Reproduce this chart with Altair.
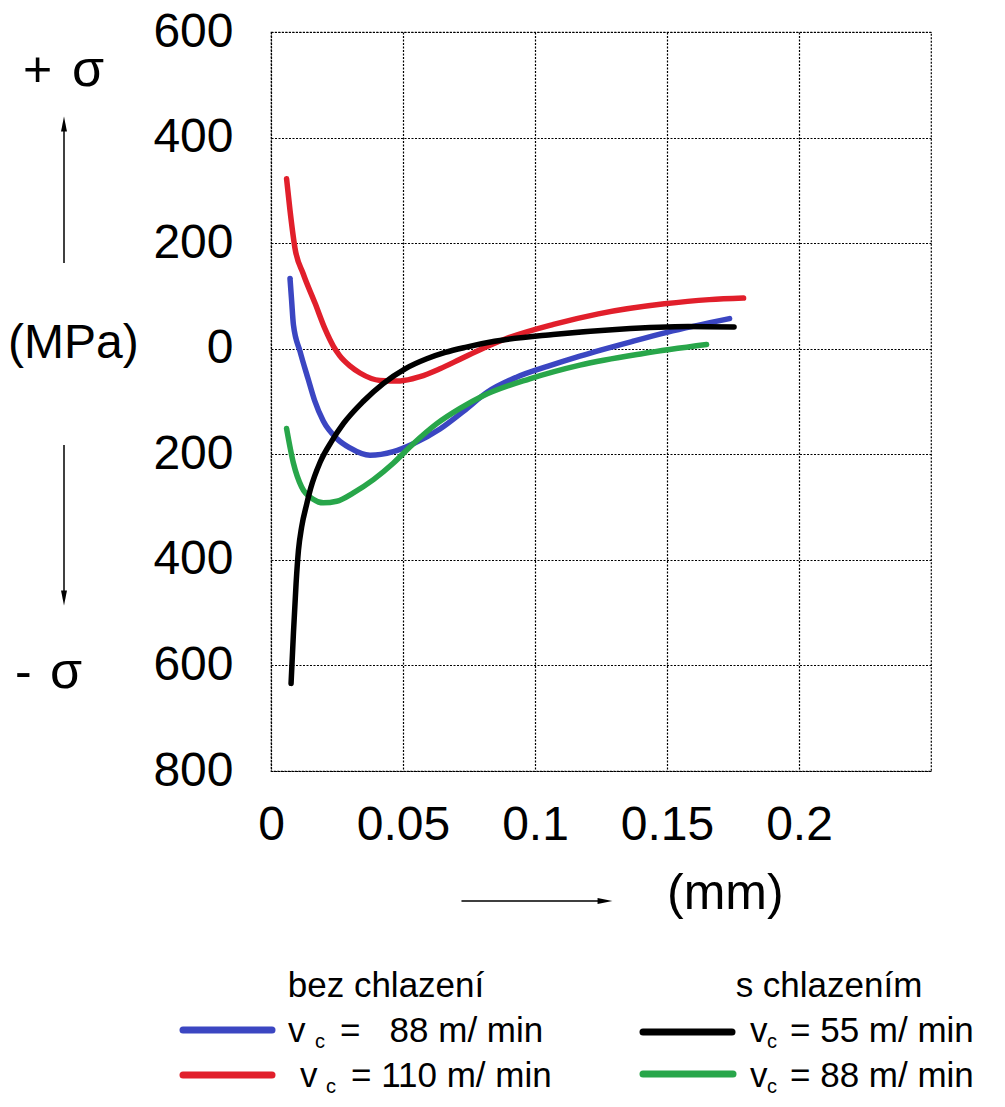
import altair as alt
import pandas as pd

FONT = "Liberation Sans"

# ---------------- data ----------------
series_names = ["bez chlazení, vc = 88 m/min", "bez chlazení, vc = 110 m/min",
                "s chlazením, vc = 88 m/min", "s chlazením, vc = 55 m/min"]
series_colors = ["#3b46c2", "#e11f2b", "#28a64a", "#000000"]

blue_x = [0.0072, 0.0078, 0.0085, 0.0110, 0.0141, 0.0165, 0.0198, 0.0249, 0.0299, 0.0375,
          0.0463, 0.0539, 0.0640, 0.0730, 0.0820, 0.0930, 0.1050, 0.1170, 0.1370, 0.1500, 0.1737]
blue_y = [133, 92, 45, -5, -58, -98, -137, -170, -188, -202,
          -195, -180, -152, -118, -82, -54, -33, -14, 14, 31, 57]

red_x = [0.0059, 0.0072, 0.0091, 0.0122, 0.0167, 0.0205, 0.0236, 0.0260, 0.0300, 0.0337,
         0.0413, 0.0489, 0.0564, 0.0640, 0.0716, 0.0800, 0.0880, 0.1070, 0.1240, 0.1490,
         0.1660, 0.1790]
red_y = [322, 262, 190, 142, 86, 37, 5, -13, -33, -46,
         -60, -61, -53, -38, -20, 0, 17, 46, 66, 85,
         93, 96]

green_x = [0.0059, 0.0085, 0.0116, 0.0160, 0.0198, 0.0249, 0.0312, 0.0388, 0.0463, 0.0539,
           0.0628, 0.0716, 0.0800, 0.0980, 0.1170, 0.1410, 0.1650]
green_y = [-151, -217, -262, -285, -292, -289, -273, -248, -217, -180,
           -142, -113, -90, -57, -31, -9, 8]

black_x = [0.0076, 0.0085, 0.0095, 0.0104, 0.0116, 0.0135, 0.0150, 0.0186, 0.0230, 0.0274,
           0.0349, 0.0425, 0.0508, 0.0590, 0.0660, 0.0740, 0.0847, 0.1068, 0.1320, 0.1580,
           0.1754]
black_y = [-634, -539, -445, -382, -338, -295, -265, -215, -175, -142,
           -100, -66, -38, -19, -7, 3, 14, 27, 37, 42,
           41]

x_ticks = [0, 0.05, 0.1, 0.15, 0.2]
y_ticks = [-800, -600, -400, -200, 0, 200, 400, 600]

legend_headers = ["bez chlazení", "s chlazením"]
legend_values = ["=\u00a0\u00a0\u00a088 m/ min", "= 110 m/ min", "= 55 m/ min", "= 88 m/ min"]
axis_texts = ["+", "σ", "(MPa)", "-", "σ", "(mm)"]

# ---------------- build table ----------------
rows = []
for name, xs, ys in [(series_names[0], blue_x, blue_y), (series_names[1], red_x, red_y),
                     (series_names[2], green_x, green_y), (series_names[3], black_x, black_y)]:
    for i, (a, b) in enumerate(zip(xs, ys)):
        rows.append({"depth": a, "stress": b, "series": name, "idx": i})
df = pd.DataFrame(rows)

GRID = dict(grid=True, gridColor="#000000", gridDash=[2, 1.5], gridWidth=1.2, gridOpacity=1)

lines = alt.Chart(df).mark_line(
    strokeWidth=5.5, strokeCap="round", strokeJoin="round", interpolate="monotone"
).encode(
    x=alt.X("depth:Q",
            scale=alt.Scale(domain=[0, 0.25], nice=False, zero=False),
            axis=alt.Axis(values=x_ticks, format="~g", title=None, **GRID,
                          domain=False, ticks=False, tickSize=0,
                          labelFont=FONT, labelFontSize=48, labelColor="black",
                          labelPadding=30, labelFlush=False, labelOverlap=False)),
    y=alt.Y("stress:Q",
            scale=alt.Scale(domain=[-800, 600], nice=False, zero=False),
            axis=alt.Axis(values=y_ticks, labelExpr="format(abs(datum.value), 'd')",
                          title=None, **GRID,
                          domain=False, ticks=False, tickSize=0,
                          labelFont=FONT, labelFontSize=48, labelColor="black",
                          labelPadding=38, labelOverlap=False)),
    color=alt.Color("series:N", scale=alt.Scale(domain=series_names, range=series_colors),
                    legend=None),
    order="idx:Q",
)


def txt(s, x, y, size, align="left"):
    return alt.Chart(pd.DataFrame({"t": [s]})).mark_text(
        font=FONT, fontSize=size, color="black", align=align, baseline="alphabetic"
    ).encode(text="t:N", x=alt.value(x), y=alt.value(y))


def hrule(x1, x2, y, color, w):
    return alt.Chart(pd.DataFrame({"k": [0]})).mark_rule(
        color=color, strokeWidth=w, strokeCap="round"
    ).encode(x=alt.value(x1), x2=alt.value(x2), y=alt.value(y))


def vrule(x, y1, y2, w):
    return alt.Chart(pd.DataFrame({"k": [0]})).mark_rule(
        color="black", strokeWidth=w
    ).encode(x=alt.value(x), y=alt.value(y1), y2=alt.value(y2))


def head(x, y, path, size):
    return alt.Chart(pd.DataFrame({"k": [0]})).mark_point(
        shape=path, filled=True, size=size, color="black", opacity=1
    ).encode(x=alt.value(x), y=alt.value(y))


layers = [lines]
# y-axis annotation
layers += [
    txt(axis_texts[0], -248, 54, 50),
    txt(axis_texts[1], -199, 54, 52),
    vrule(-207, 231, 94, 1.5),
    head(-207, 92, "M0,-1L0.4,1L-0.4,1Z", 220),
    txt(axis_texts[2], -263, 326, 48),
    vrule(-207, 413, 564, 1.5),
    head(-207, 566, "M0,1L0.4,-1L-0.4,-1Z", 220),
    txt(axis_texts[3], -256, 656, 50),
    txt(axis_texts[4], -221, 656, 52),
]
# x-axis annotation
layers += [
    hrule(191, 332, 869, "black", 1.5),
    head(334, 869, "M1,0L-1,0.4L-1,-0.4Z", 220),
    txt(axis_texts[5], 396, 877, 50),
]
# legend
layers += [
    txt(legend_headers[0], 115, 965, 35, "center"),
    txt(legend_headers[1], 558, 965, 35, "center"),
    hrule(-88, 1, 998, series_colors[0], 7),
    hrule(-88, 1, 1043, series_colors[1], 7),
    hrule(372, 461, 1000, series_colors[3], 7),
    hrule(372, 462, 1042, series_colors[2], 7),
    txt("v", 17, 1010, 35), txt("c", 44, 1016, 20), txt(legend_values[0], 69, 1010, 35),
    txt("v", 29, 1055, 35), txt("c", 55, 1061, 20), txt(legend_values[1], 80, 1055, 35),
    txt("v", 479, 1010, 35), txt("c", 496, 1016, 20), txt(legend_values[2], 519, 1010, 35),
    txt("v", 479, 1055, 35), txt("c", 496, 1061, 20), txt(legend_values[3], 519, 1055, 35),
]

chart = alt.layer(*layers).properties(
    width=660, height=739,
    autosize=alt.AutoSizeParams(type="none"),
    padding={"left": 271, "top": 32, "right": 74, "bottom": 336},
    background="white",
).configure_view(
    stroke="#000000", strokeWidth=1.2, strokeDash=[2, 1.5]
)

chart.save("out.html", embed_options={"renderer": "svg", "actions": False})
